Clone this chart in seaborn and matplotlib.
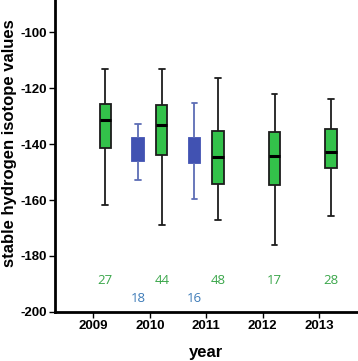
import matplotlib
matplotlib.use("Agg")
import matplotlib.pyplot as plt
import numpy as np
import pandas as pd
import seaborn as sns

# Values: whisker low, Q1, median, Q3, whisker high
years = ["2009", "2010", "2011", "2012", "2013"]
green_years = ["2009", "2010", "2011", "2012", "2013"]
green_stats = [
    [-161.9, -141.3, -131.4, -125.8, -113.2],
    [-168.9, -144.0, -133.1, -126.2, -113.0],
    [-167.3, -154.4, -144.8, -135.5, -116.3],
    [-176.1, -154.6, -144.4, -135.6, -122.0],
    [-165.6, -148.5, -142.9, -134.6, -123.8],
]
green_n = [27, 44, 48, 17, 28]

blue_years = ["2010", "2011"]
blue_stats = [
    [-153.0, -146.1, -142.0, -137.7, -132.7],
    [-159.6, -146.7, -142.0, -137.7, -125.4],
]
blue_n = [18, 16]

groups = ["blue", "green"]

rows = []
for yr, st in zip(green_years, green_stats):
    for v in st:
        rows.append({"year": yr, "group": "green", "value": v})
for yr, st in zip(blue_years, blue_stats):
    for v in st:
        rows.append({"year": yr, "group": "blue", "value": v})
df = pd.DataFrame(rows)

sns.set_style("ticks")
plt.rcParams["font.family"] = ["Liberation Sans", "DejaVu Sans"]
plt.rcParams["axes.unicode_minus"] = False
plt.rcParams["text.color"] = "black"
plt.rcParams["axes.labelcolor"] = "black"
plt.rcParams["xtick.color"] = "black"
plt.rcParams["ytick.color"] = "black"
plt.rcParams["axes.edgecolor"] = "black"

fig = plt.figure(figsize=(3.58, 3.61), dpi=100)
ax = fig.add_axes([0.154, 0.136, 0.843, 0.864])

green_fill = "#33c24a"
blue_fill = "#4152b2"
common = dict(x="year", y="value", hue="group", order=years, hue_order=groups,
              dodge=True, width=0.84, gap=0.52, whis=(0, 100), legend=False, ax=ax)

sns.boxplot(data=df[df["group"] == "green"], palette={"green": green_fill, "blue": blue_fill},
            linecolor="#1c1c1c", linewidth=1.3, saturation=1,
            medianprops=dict(color="black", linewidth=2.2), **common)
sns.boxplot(data=df[df["group"] == "blue"], palette={"green": green_fill, "blue": blue_fill},
            linecolor="#5d6db5", linewidth=1.3, saturation=1,
            boxprops=dict(edgecolor=blue_fill),
            medianprops=dict(color=blue_fill, linewidth=1.3), **common)

off = 0.21
for yr, n in zip(green_years, green_n):
    ax.text(years.index(yr) + off, -188.8, str(n), color="#3aa64a", fontsize=9.5,
            ha="center", va="center", family=["Open Sans", "DejaVu Sans"])
for yr, n in zip(blue_years, blue_n):
    ax.text(years.index(yr) - off, -195.2, str(n), color="#3d7bb8", fontsize=9.5,
            ha="center", va="center", family=["Open Sans", "DejaVu Sans"])

ax.set_ylim(-200, -88.5)
ax.set_xlim(-0.68, 4.67)
ax.set_yticks([-200, -180, -160, -140, -120, -100])
ax.set_xlabel("year", fontsize=12, fontweight="bold", labelpad=9)
ax.set_ylabel("stable hydrogen isotope values", fontsize=12, fontweight="bold")
ax.yaxis.set_label_coords(-0.126, 0.54)
ax.tick_params(axis="both", labelsize=9.5, width=1, length=4, color="black", pad=2)
for lab in ax.get_xticklabels() + ax.get_yticklabels():
    lab.set_fontweight("bold")
sns.despine(ax=ax)
ax.spines["left"].set_linewidth(2)
ax.spines["bottom"].set_linewidth(2)
ax.grid(False)

fig.savefig("out.png", dpi=100)
